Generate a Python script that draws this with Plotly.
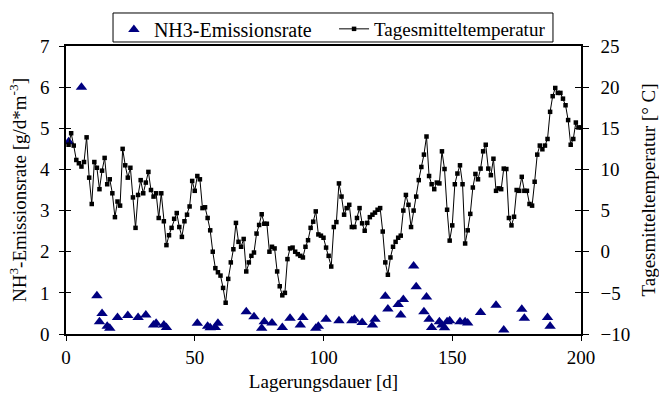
import plotly.graph_objects as go

# Tagesmitteltemperatur (days 1..200)
temp_days = list(range(1, 201))
temp_values = [
    13.0, 14.4, 12.9, 11.15, 10.75, 10.35, 10.9, 13.9, 9.0, 5.8,
    10.9, 10.2, 7.6, 9.85, 11.4, 8.2, 8.8, 7.1, 4.2, 6.1,
    5.6, 12.5, 10.5, 9.0, 10.2, 6.6, 2.9, 6.9, 8.7, 7.1,
    8.4, 9.7, 7.5, 6.7, 7.1, 4.1, 7.1, 3.7, 0.8, 2.0,
    2.9, 4.0, 4.7, 3.0, 1.8, 3.7, 4.5, 5.5, 8.6, 7.4,
    9.2, 8.8, 5.3, 5.4, 4.1, 2.6, 0.0, -2.0, -2.5, -2.9,
    -4.4, -6.2, -3.3, -1.3, 0.3, 3.5, 1.2, 0.6, 1.55, -2.4,
    -1.3, -0.5, -0.1, 2.2, 3.25, 4.55, 3.4, 3.4, 0.0, 0.6,
    0.4, -2.4, -4.2, -5.3, -5.0, -0.9, 0.4, 0.5, 0.0, -0.3,
    -0.5, -0.7, 0.6, 1.4, 2.9, 3.65, 4.9, 2.1, 1.95, 1.7,
    0.5, -0.5, -1.8, 3.0, 3.6, 8.3, 6.7, 4.5, 5.3, 5.7,
    3.0, 3.0, 4.1, 5.3, 3.45, 2.55, 3.5, 4.2, 4.5, 4.75,
    5.1, 5.3, 2.45, -1.3, -2.8, -0.7, 0.6, 1.2, 1.7, 1.95,
    5.0, 6.9, 5.7, 3.0, 5.0, 6.7, 8.7, 10.3, 11.8, 14.0,
    9.2, 8.2, 7.6, 8.4, 8.3, 12.2, 10.05, 5.1, 1.35, 3.2,
    8.2, 9.5, 10.5, 8.2, 1.0, 2.6, 4.6, 7.8, 9.45, 8.8,
    10.1, 12.2, 13.0, 10.1, 9.3, 11.3, 7.4, 7.7, 7.6, 10.1,
    10.05, 4.1, 3.2, 4.25, 7.5, 7.4, 9.1, 7.4, 7.4, 5.8,
    5.6, 8.5, 11.8, 12.9, 12.45, 12.9, 13.7, 17.0, 18.9, 19.9,
    19.3, 19.3, 18.6, 17.8, 16.0, 13.0, 13.7, 15.7, 15.1, 15.1,
]

# NH3-Emissionsrate
nh3_days = [1, 6, 12, 13, 14, 16, 17, 20, 24, 28, 31, 34, 35, 38, 39, 51, 55, 56, 58, 59,
            70, 73, 76, 77, 80, 84, 87, 91, 92, 97, 98, 101, 106, 111, 112, 115, 119, 120,
            124, 125, 129, 130, 131, 135, 136, 139, 140, 141, 142, 145, 146, 147, 148, 149,
            153, 155, 156, 161, 167, 170, 177, 178, 187, 188]
nh3_values = [4.67, 6.0, 0.93, 0.3, 0.5, 0.19, 0.14, 0.4, 0.45, 0.4, 0.46, 0.22, 0.26, 0.22, 0.16,
              0.26, 0.19, 0.15, 0.16, 0.26,
              0.54, 0.42, 0.14, 0.3, 0.27, 0.16, 0.38, 0.22, 0.4, 0.14, 0.19, 0.36, 0.32, 0.32,
              0.36, 0.28, 0.22, 0.36,
              0.92, 0.61, 0.72, 0.46, 0.84, 1.65, 1.15, 0.54, 0.9, 0.36, 0.16, 0.3, 0.22, 0.15,
              0.3, 0.32,
              0.3, 0.3, 0.27, 0.52, 0.7, 0.1, 0.6, 0.38, 0.4, 0.19]

FONT = "Liberation Serif, Times New Roman, serif"

fig = go.Figure()
fig.add_trace(go.Scatter(
    x=temp_days, y=temp_values, name="Tagesmitteltemperatur", yaxis="y2",
    mode="lines+markers", line=dict(color="black", width=1),
    marker=dict(symbol="square", size=4.5, color="black"), legend="legend2",
))
fig.add_trace(go.Scatter(
    x=nh3_days, y=nh3_values, name="NH3-Emissionsrate", yaxis="y",
    mode="markers", marker=dict(symbol="triangle-up", size=10, color="#000080"),
    legend="legend",
))
# helper traces for inner tick halves
fig.add_trace(go.Scatter(x=[None], y=[None], yaxis="y3", showlegend=False, hoverinfo="skip"))
fig.add_trace(go.Scatter(x=[None], y=[None], yaxis="y4", showlegend=False, hoverinfo="skip"))

TITLE_FONT = dict(family=FONT, size=19, color="black")
LEG = dict(orientation="h", y=1.125, xanchor="left", yanchor="top",
           borderwidth=0, bgcolor="rgba(0,0,0,0)", itemsizing="trace")

fig.update_layout(
    width=659, height=394,
    margin=dict(l=66, r=78, t=46, b=60, autoexpand=False),
    paper_bgcolor="white", plot_bgcolor="white",
    font=dict(family=FONT, size=19, color="black"),
    showlegend=True,
    legend=dict(LEG, x=0.093, font=dict(size=20)),
    legend2=dict(LEG, x=0.5205, font=dict(size=19)),
    shapes=[dict(
        type="rect", xref="paper", yref="paper",
        x0=0.0913, x1=0.9456, y0=1.0139, y1=1.1146,
        line=dict(color="black", width=1), fillcolor="rgba(0,0,0,0)", layer="above",
    )],
    xaxis=dict(
        range=[0, 200], dtick=50, tick0=0, showgrid=False, zeroline=False,
        showline=True, linecolor="black", linewidth=1.5, mirror=True,
        ticks="outside", ticklen=5, tickcolor="black", automargin=False,
        title=dict(text="Lagerungsdauer [d]", standoff=8, font=TITLE_FONT),
    ),
    yaxis=dict(
        range=[0, 7], dtick=1, showgrid=False, zeroline=False,
        showline=True, linecolor="black", linewidth=1.5, automargin=False,
        ticks="outside", ticklen=5, tickcolor="black", ticklabelstandoff=6,
        title=dict(text="NH<sup>3</sup>-Emissionsrate [g/d*m<sup>-3</sup>]", standoff=8, font=TITLE_FONT),
    ),
    yaxis2=dict(
        range=[-10, 25], dtick=5, overlaying="y", side="right", anchor="x",
        showgrid=False, zeroline=False, automargin=False,
        showline=True, linecolor="black", linewidth=1.5,
        ticks="outside", ticklen=6, tickcolor="black", ticklabelstandoff=8,
        title=dict(text="Tagesmitteltemperatur [° C]", standoff=15, font=TITLE_FONT),
    ),
    yaxis3=dict(
        range=[0, 7], dtick=1, overlaying="y", side="left", anchor="x",
        showgrid=False, zeroline=False, showline=False, showticklabels=False,
        ticks="inside", ticklen=5, tickcolor="black", automargin=False,
    ),
    yaxis4=dict(
        range=[-10, 25], dtick=5, overlaying="y", side="right", anchor="x",
        showgrid=False, zeroline=False, showline=False, showticklabels=False,
        ticks="inside", ticklen=6, tickcolor="black", automargin=False,
    ),
)

fig.write_html(
    "out.html",
    config={"displayModeBar": False},
    post_script="document.body.style.margin='0px';document.body.style.overflow='hidden';",
)
